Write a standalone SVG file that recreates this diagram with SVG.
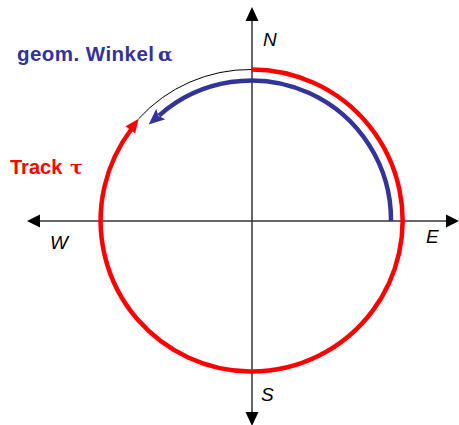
<svg xmlns="http://www.w3.org/2000/svg" width="459" height="425" viewBox="0 0 459 425">
<style>
.axis{stroke:#333;stroke-width:1.5;fill:none}
.head{fill:#000}
.lbl{font-family:"Liberation Sans",Arial,sans-serif;font-style:italic;font-size:19px;fill:#000}
.ttl{font-family:"Liberation Sans",Arial,sans-serif;font-weight:bold}
.greek{font-family:"DejaVu Serif","Liberation Serif",serif;font-weight:bold}
</style>
<rect width="459" height="425" fill="#fff"/>
<g id="connectors">
<g id="axes">
<line class="axis" x1="252" y1="18" x2="252" y2="414"/>
<line class="axis" x1="38" y1="221" x2="448" y2="221"/>
<polygon class="head" points="252,7 245.5,21 258.5,21"/>
<polygon class="head" points="252,426 245.5,412 258.5,412"/>
<polygon class="head" points="27,221 40,214.5 40,227.5"/>
<polygon class="head" points="459,221 446,214.5 446,227.5"/>
</g>
<g id="track">
<path d="M 138.7,118.7 A 151 151 0 0 1 251.5,69.5" stroke="#000" stroke-width="1" fill="none"/>
<path d="M 251.5,69.5 A 151 151 0 1 1 131.5,129" stroke="#f00" stroke-width="4.5" fill="none"/>
<polygon points="138.7,118.7 135.1,133.5 125.5,126.3" fill="#f00"/>
</g>
<g id="angle">
<path d="M 391,221 A 139.5 139.5 0 0 0 159,115.6" stroke="#333399" stroke-width="4.5" fill="none"/>
<polygon points="148.7,124.5 165.4,119.3 158.5,116 156.2,108.7" fill="#333399"/>
</g>
</g>
<g id="label-N"><text class="lbl" x="263" y="46">N</text></g>
<g id="label-E"><text class="lbl" x="426" y="243">E</text></g>
<g id="label-W"><text class="lbl" x="50" y="249">W</text></g>
<g id="label-S"><text class="lbl" x="261" y="401">S</text></g>
<g id="label-alpha">
<text class="ttl" x="17" y="61" font-size="20.5" fill="#333399" textLength="137" lengthAdjust="spacing">geom. Winkel</text>
<text class="greek" x="158" y="61" font-size="19" fill="#333399">α</text>
</g>
<g id="label-tau">
<text class="ttl" x="10" y="174" font-size="20" fill="#f00">Track</text>
<text class="greek" x="70" y="174" font-size="19" fill="#f00">τ</text>
</g>
</svg>
